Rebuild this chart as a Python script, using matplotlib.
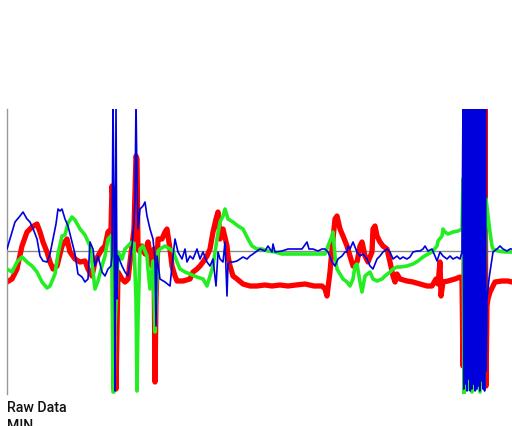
import matplotlib
matplotlib.use("Agg")
import matplotlib.pyplot as plt

# ---- data (sample index, signal value) ----
red_x = [0,5,10,15,20,25,30,33,36,40,43,46,50,55,60,63,68,73,78,81,85,88,91,95,98,101,104,105,106,107,108,109,
         111,115,118,121,125,127,129,130,131,133,135,138,141,145,147,148,149,151,155,158,160,163,165,168,170,176,
         183,186,190,193,196,200,203,206,209,211,213,216,220,221,223,226,230,236,243,250,258,265,273,281,289,298,
         307,315,318,320,323,325,328,330,333,336,340,343,346,350,353,355,358,361,365,366,368,370,373,376,380,383,
         386,388,390,393,400,406,413,420,425,429,431,433,434,436,441,448,453,455,456,458,460,461,463,465,467,469,
         471,473,475,477,478,479,480,481,483,488,495,501,505]
red_y = [-31,-28,-18,5,19,24,27,19,9,-1,-11,-18,-15,5,12,-1,-8,-11,-10,-18,-25,-11,-5,2,5,19,22,65,52,-138,-48,-138,
         -21,-28,-31,-28,5,22,95,92,2,-1,5,-3,9,-15,2,-131,-48,12,12,19,22,2,-15,-25,-30,-30,
         -28,-21,-18,-15,-11,-5,2,19,32,39,12,22,5,-5,-15,-25,-28,-33,-35,-35,-34,-35,-34,-35,-34,-33,
         -35,-35,-38,-45,-21,2,32,35,22,15,5,-5,-15,-11,5,9,-5,-11,-1,22,25,15,9,5,2,-11,
         -25,-31,-23,-28,-30,-31,-33,-35,-35,-28,-33,-11,-45,-31,-30,-28,-26,-28,-115,52,150,-128,150,-133,150,-128,
         150,-133,150,-118,150,-135,-55,-48,-41,-31,-30,-30,-31]

green_x = [0,5,10,15,20,25,30,35,40,43,48,51,55,58,61,65,68,73,78,83,86,88,91,95,98,101,104,105,106,107,108,
           111,115,118,121,125,127,129,130,131,133,136,140,141,143,146,148,149,151,153,158,163,166,170,173,178,183,
           190,196,200,203,206,210,213,216,218,221,226,231,236,241,245,250,255,261,268,275,281,288,298,308,318,321,
           325,326,328,330,333,336,340,343,346,348,350,353,355,358,363,366,370,375,378,383,386,390,393,400,406,411,
           416,421,425,430,431,435,436,438,441,446,451,455,456,457,459,461,463,465,467,469,471,473,475,477,479,481,
           483,485,486,491,498,505]
green_y = [-18,-21,-11,-6,-11,-15,-21,-31,-37,-35,-23,-3,15,16,28,34,31,22,16,5,-21,-38,-30,-15,-5,12,15,-8,-141,-141,-78,
           -1,-8,2,5,9,7,-48,-140,-68,2,5,-5,-18,-38,-10,-81,-48,0,2,5,2,0,-11,-18,-21,-23,
           -26,-28,-35,-25,-15,12,29,35,42,32,29,25,22,12,5,2,2,0,-1,-3,-3,-3,-3,-3,-3,5,
           15,19,-5,-18,-23,-28,-31,-35,-28,-15,-13,-31,-41,-25,-21,-28,-30,-28,-25,-21,-18,-16,-16,-15,-13,-10,
           -6,-3,-1,5,10,15,22,19,17,19,20,22,72,-143,102,-138,122,-141,112,-138,102,-141,92,-136,52,35,
           19,5,2,0,-1,-1]

blue_x = [0,3,8,13,16,20,23,27,30,33,36,40,43,46,49,51,53,55,58,61,65,68,71,75,78,81,83,86,88,91,95,98,101,104,105,
          106,107,108,109,110,111,115,118,121,125,127,128,129,130,131,133,136,138,140,143,146,148,149,150,153,158,
          163,166,168,171,175,178,180,183,186,190,193,196,200,203,206,209,211,213,216,218,220,221,223,226,230,233,
          236,240,243,246,250,253,258,261,265,266,268,275,281,288,295,300,302,306,311,315,318,321,325,328,331,335,
          338,340,341,343,346,350,353,356,360,363,366,370,373,376,380,383,386,390,393,396,400,403,406,410,413,416,
          418,421,425,428,430,433,436,440,443,446,450,453,455,
          456,456.8,457.6,458.4,459.2,460,460.8,461.6,462.4,463.2,464,464.8,465.6,466.4,467.2,468,468.8,469.6,
          470.4,471.2,472,472.8,473.6,474.4,475.2,476,476.8,477.6,478.4,479.2,480,
          482,483,485,486,490,493,496,500,503,505]
blue_y = [2,12,29,35,39,32,29,20,12,-5,-10,-11,-3,12,27,42,40,42,32,25,9,-3,-23,-26,-31,-28,9,2,-15,-5,-21,-25,-18,-15,-5,
          150,52,-140,150,-48,-5,-15,-21,-25,5,29,52,150,72,22,42,45,49,35,22,12,-8,-75,-5,-28,-31,
          -35,-5,12,-1,-8,2,-11,-5,-8,2,-8,-1,-11,-15,-8,-35,-1,-8,-11,9,-45,-13,-11,-11,-10,-8,
          -6,-8,-5,-3,0,2,0,5,-1,7,-1,0,2,2,2,9,2,2,0,2,2,-1,-11,-15,-8,-5,
          -1,-1,5,2,9,-1,-5,-3,-8,-15,-18,-8,-5,-1,2,-1,-8,-5,-8,-6,-8,-6,-1,0,0,2,
          5,0,2,-5,-10,-1,-5,-8,-5,-8,-6,-8,-1,
          150,-138,150,-133,150,-140,150,-128,150,-140,150,-138,150,-133,150,-140,150,-138,
          150,-135,150,-140,150,-130,150,-138,150,-140,150,-120,-48,
          -28,-21,-8,-1,2,5,2,0,2,2]

y_min, y_max = -143, 142
x_min, x_max = 0, 505

fig = plt.figure(figsize=(5.12, 4.27), dpi=100)
ax = fig.add_axes([7/512, (427-395)/427, 1 - 7/512, (395-110)/427])

ax.axhline(0, color="#8a8a8a", lw=1.0, zorder=1)
ax.plot(red_x, red_y, color="#ff0000", lw=3.8, solid_joinstyle="round", solid_capstyle="round", zorder=2)
ax.plot(green_x, green_y, color="#22ee22", lw=2.6, solid_joinstyle="round", solid_capstyle="round", zorder=3)
ax.plot(blue_x, blue_y, color="#0000dd", lw=1.2, zorder=4)

ax.set_xlim(x_min, x_max)
ax.set_ylim(y_min, y_max)
for s in ["top", "right", "bottom"]:
    ax.spines[s].set_visible(False)
ax.spines["left"].set_color("#999999")
ax.spines["left"].set_linewidth(1.0)
ax.set_xticks([])
ax.set_yticks([])

fig.text(7/512, 1 - 408/427, "Raw Data", family=["Roboto", "DejaVu Sans"], fontweight="medium",
         fontsize=10.2, color="#111111", va="center", ha="left")
fig.text(7/512, 1 - 426/427, "MIN", family=["Roboto", "DejaVu Sans"], fontweight="medium",
         fontsize=10.2, color="#111111", va="center", ha="left")

fig.savefig("out.png", dpi=100)
